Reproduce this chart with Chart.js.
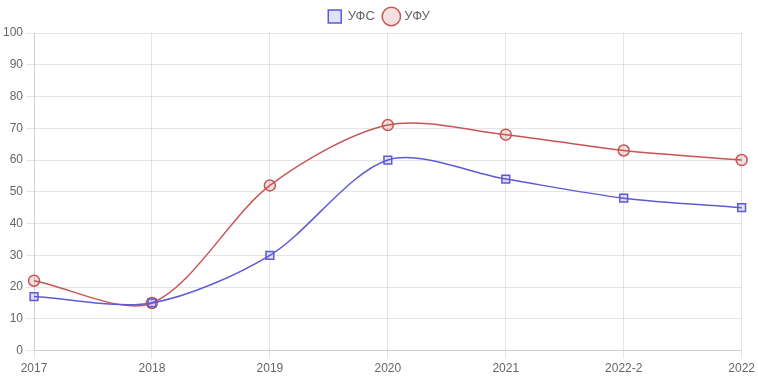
<!DOCTYPE html>
<html><head><meta charset="utf-8">
<script src="https://cdn.jsdelivr.net/npm/chart.js@4"></script>
<style>html,body{margin:0;padding:0;background:#fff}#wrap{width:758px;height:379px}</style>
</head><body><div id="wrap"><canvas id="c"></canvas></div>
<script>
const categories = ["2017","2018","2019","2020","2021","2022-2","2022"];
const ufsValues = [17,15,30,60,54,48,45];
const ufuValues = [22,15,52,71,68,63,60];
const seriesNames = ["УФС","УФУ"];

new Chart(document.getElementById('c'), {
  type: 'line',
  data: {
    labels: categories,
    datasets: [
      {label: seriesNames[0], data: ufsValues, borderColor: 'rgb(95,90,210)', backgroundColor: 'rgba(95,90,210,0.18)',
       pointStyle: 'rect', pointRadius: 5.5, pointHoverRadius: 6, borderWidth: 1.5, pointBorderWidth: 1.5, tension: 0.3, fill: false},
      {label: seriesNames[1], data: ufuValues, borderColor: 'rgb(200,85,85)', backgroundColor: 'rgba(200,85,85,0.18)',
       pointStyle: 'circle', pointRadius: 5.5, pointHoverRadius: 7, borderWidth: 1.5, pointBorderWidth: 1.5, tension: 0.3, fill: false}
    ]
  },
  options: {
    responsive: true, maintainAspectRatio: false, animation: false,
    plugins: {legend: {position: 'top', labels: {usePointStyle: true, color: '#666', font: {size: 13}}}},
    scales: {
      x: {grid: {color: 'rgba(0,0,0,0.1)'}, ticks: {color: '#666', font: {size: 12}}},
      y: {min: 0, max: 100, ticks: {stepSize: 10, color: '#666', font: {size: 12}}, grid: {color: 'rgba(0,0,0,0.1)'}}
    }
  }
});
</script></body></html>
